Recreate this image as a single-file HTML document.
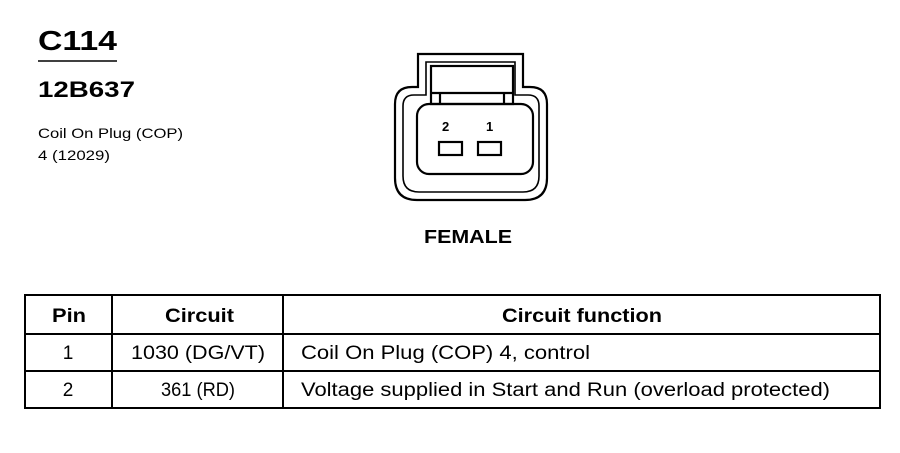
<!DOCTYPE html>
<html><head><style>
body{margin:0;background:#fff;}
svg text{font-family:"Liberation Sans",Arial,sans-serif;fill:#000;}
</style></head><body>
<svg width="900" height="448" viewBox="0 0 900 448" xmlns="http://www.w3.org/2000/svg">
<text x="38" y="50" font-size="28" font-weight="bold" textLength="79" lengthAdjust="spacingAndGlyphs">C114</text>
<line x1="38" y1="61" x2="117" y2="61" stroke="#000" stroke-width="1.5"/>
<text x="38" y="97" font-size="22" font-weight="bold" textLength="97" lengthAdjust="spacingAndGlyphs">12B637</text>
<text x="38" y="138" font-size="14" textLength="145" lengthAdjust="spacingAndGlyphs">Coil On Plug (COP)</text>
<text x="38" y="160" font-size="14" textLength="72" lengthAdjust="spacingAndGlyphs">4 (12029)</text>

<g fill="none" stroke="#000" stroke-width="2.2">
<path d="M418,87 L418,54 L523,54 L523,87 L530,87 Q547,87 547,104 L547,178 Q547,200 525,200 L417,200 Q395,200 395,178 L395,104 Q395,87 412,87 Z"/>
<path d="M426,95 L426,62 L515,62 L515,95 L528,95 Q539,95 539,106 L539,176 Q539,192 523,192 L419,192 Q403,192 403,176 L403,106 Q403,95 414,95 Z" stroke-width="1.6"/>
<rect x="431" y="66" width="82" height="38"/>
<line x1="431" y1="93" x2="513" y2="93"/>
<line x1="440" y1="93" x2="440" y2="104"/>
<line x1="504" y1="93" x2="504" y2="104"/>
<rect x="417" y="104" width="116" height="70" rx="12"/>
<rect x="439" y="142" width="23" height="13"/>
<rect x="478" y="142" width="23" height="13"/>
</g>
<text x="442" y="131" font-size="13" font-weight="bold">2</text>
<text x="486" y="131" font-size="13" font-weight="bold">1</text>
<text x="424" y="243" font-size="18" font-weight="bold" textLength="88" lengthAdjust="spacingAndGlyphs">FEMALE</text>

<g stroke="#000" stroke-width="2" fill="none">
<rect x="25" y="295" width="855" height="113"/>
<line x1="25" y1="334" x2="880" y2="334"/>
<line x1="25" y1="371" x2="880" y2="371"/>
<line x1="112" y1="295" x2="112" y2="408"/>
<line x1="283" y1="295" x2="283" y2="408"/>
</g>
<g font-size="19">
<text x="52" y="322" font-weight="bold" textLength="34" lengthAdjust="spacingAndGlyphs">Pin</text>
<text x="165" y="322" font-weight="bold" textLength="69" lengthAdjust="spacingAndGlyphs">Circuit</text>
<text x="502" y="322" font-weight="bold" textLength="160" lengthAdjust="spacingAndGlyphs">Circuit function</text>
<text x="68" y="359" text-anchor="middle">1</text>
<text x="131" y="359" textLength="134" lengthAdjust="spacingAndGlyphs">1030 (DG/VT)</text>
<text x="301" y="359" textLength="289" lengthAdjust="spacingAndGlyphs">Coil On Plug (COP) 4, control</text>
<text x="68" y="396" text-anchor="middle">2</text>
<text x="161" y="396" textLength="74" lengthAdjust="spacingAndGlyphs">361 (RD)</text>
<text x="301" y="396" textLength="529" lengthAdjust="spacingAndGlyphs">Voltage supplied in Start and Run (overload protected)</text>
</g>
</svg>
</body></html>
